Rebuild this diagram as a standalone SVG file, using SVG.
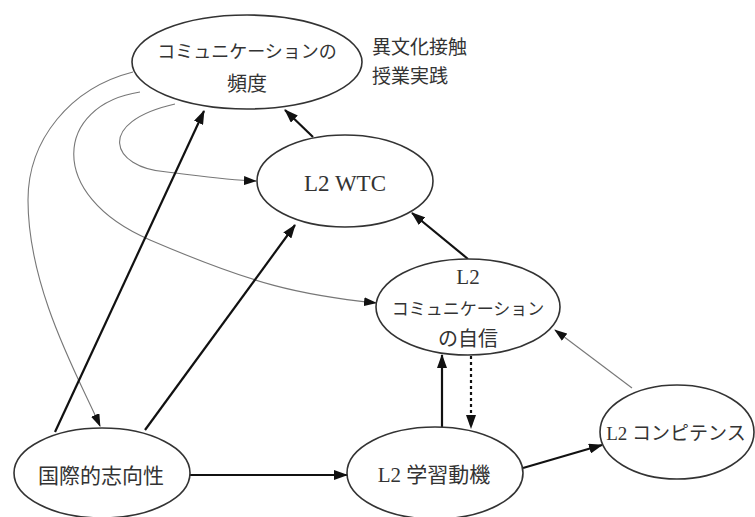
<svg xmlns="http://www.w3.org/2000/svg" width="755" height="517" viewBox="0 0 755 517">
<style>
.node ellipse{fill:#fff;stroke:#333;stroke-width:1.6}
.jp{font-family:"Noto Sans CJK JP","Noto Sans",sans-serif;fill:#333;text-anchor:middle;dominant-baseline:central}
.mx{font-family:"Liberation Serif","Noto Sans CJK JP",serif;fill:#333;text-anchor:middle;dominant-baseline:central}
.thick{stroke:#111;stroke-width:2.2;fill:none}
.thin{stroke:#777;stroke-width:1.1;fill:none}
.dot{stroke:#111;stroke-width:2.2;fill:none;stroke-dasharray:3 3}
</style>
<defs>
<marker id="ah" markerUnits="userSpaceOnUse" markerWidth="14" markerHeight="10" refX="13" refY="5" orient="auto">
<path d="M0,0 L14,5 L0,10 Z" fill="#111"/>
</marker>
<marker id="ahs" markerUnits="userSpaceOnUse" markerWidth="13" markerHeight="9" refX="12" refY="4.5" orient="auto">
<path d="M0,0 L13,4.5 L0,9 Z" fill="#111"/>
</marker>
</defs>
<rect width="755" height="517" fill="#fff"/>
<g id="connectors">
<path class="thin" d="M175,104 C95,122 110,168 167,172 C200,176 225,180 256,181" marker-end="url(#ahs)"/>
<path class="thin" d="M140,92 C55,105 45,195 150,240 C255,285 300,295 376,303" marker-end="url(#ahs)"/>
<path class="thin" d="M133,72 C70,88 28,140 28,200 C28,290 80,380 100,426" marker-end="url(#ahs)"/>
<line class="thick" x1="55" y1="432" x2="204" y2="111" marker-end="url(#ah)"/>
<line class="thick" x1="145" y1="430" x2="295" y2="225" marker-end="url(#ah)"/>
<line class="thick" x1="313" y1="137" x2="285" y2="110" marker-end="url(#ah)"/>
<line class="thick" x1="468" y1="259" x2="412" y2="213" marker-end="url(#ah)"/>
<line class="thick" x1="190" y1="475" x2="347" y2="475" marker-end="url(#ah)"/>
<line class="thick" x1="442" y1="427" x2="442" y2="355" marker-end="url(#ah)"/>
<line class="dot" x1="471" y1="356" x2="471" y2="428" marker-end="url(#ah)"/>
<line class="thick" x1="523" y1="468" x2="602" y2="445" marker-end="url(#ah)"/>
<line class="thin" x1="632" y1="388" x2="555" y2="330" marker-end="url(#ahs)"/>
</g>
<g id="node-freq" class="node">
<ellipse cx="247" cy="62" rx="115" ry="47"/>
<text class="jp" x="247" y="50" font-size="18">コミュニケーションの</text>
<text class="jp" x="247" y="82" font-size="20">頻度</text>
</g>
<g id="note">
<text class="jp" x="372" y="45" font-size="19" style="text-anchor:start">異文化接触</text>
<text class="jp" x="372" y="74" font-size="19" style="text-anchor:start">授業実践</text>
</g>
<g id="node-wtc" class="node">
<ellipse cx="345" cy="181" rx="88" ry="46"/>
<text class="mx" x="345" y="183" font-size="23">L2 WTC</text>
</g>
<g id="node-conf" class="node">
<ellipse cx="468" cy="307" rx="92" ry="48"/>
<text class="mx" x="468" y="277" font-size="21">L2</text>
<text class="jp" x="468" y="307" font-size="17">コミュニケーション</text>
<text class="jp" x="468" y="337" font-size="20">の自信</text>
</g>
<g id="node-intl" class="node">
<ellipse cx="102" cy="473" rx="88" ry="45"/>
<text class="jp" x="101" y="474" font-size="21">国際的志向性</text>
</g>
<g id="node-motiv" class="node">
<ellipse cx="435" cy="473" rx="88" ry="46"/>
<text class="mx" x="434" y="475" font-size="21">L2 学習動機</text>
</g>
<g id="node-comp" class="node">
<ellipse cx="677" cy="432" rx="77" ry="47"/>
<text class="mx" x="676" y="433" font-size="19">L2 コンピテンス</text>
</g>
</svg>
